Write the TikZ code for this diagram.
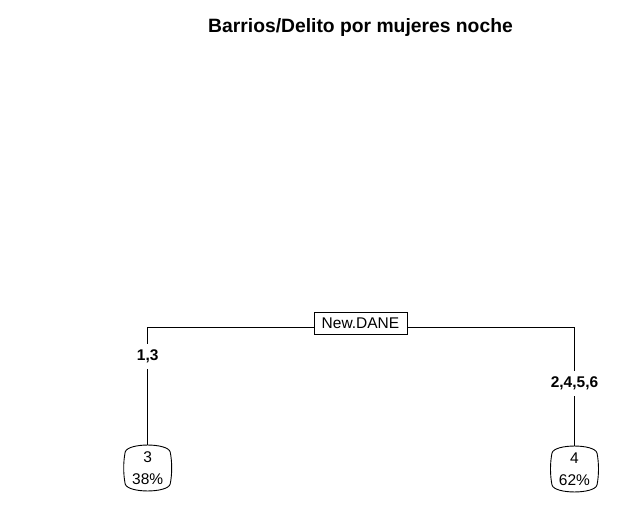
\documentclass[tikz,border=0pt]{standalone}
\usepackage{fontspec}
\setmainfont{Liberation Sans}
\begin{document}
\begin{tikzpicture}[x=1pt,y=-1pt,
  titlestyle/.style={font=\bfseries\fontsize{19.3}{22}\selectfont},
  splitbox/.style={draw, line width=0.9pt, inner sep=0pt, minimum width=93pt, minimum height=22.5pt, font=\fontsize{15.5}{18}\selectfont},
  leafbox/.style={inner sep=0pt, minimum width=45pt, minimum height=46pt},
  leaftext/.style={anchor=base, inner sep=0pt, font=\fontsize{15.5}{18}\selectfont},
  edgelab/.style={fill=white, inner sep=0pt, minimum height=25pt, minimum width=20pt, font=\bfseries\fontsize{15.5}{18}\selectfont},
  edge/.style={line width=0.9pt}]
\useasboundingbox (0,0) rectangle (633,506);
\fill[white] (0,0) rectangle (633,506);
\node[titlestyle] (title) at (360.5,28) {Barrios/Delito por mujeres noche};
\coordinate (hl) at (360.5,327.7);
\node[leafbox] (leafL) at (147.7,468) {};
\node[leafbox] (leafR) at (574.5,469) {};
\node[leaftext] (leafLa) at (147.7,462) {3};
\node[leaftext] (leafLb) at (147.7,484) {38\%};
\node[leaftext] (leafRa) at (574.5,463) {4};
\node[leaftext] (leafRb) at (574.5,485) {62\%};
\draw[edge] (leafL.north) -- (leafL.north |- hl) -- (leafR.north |- hl) -- (leafR.north);
\node[splitbox, fill=white] (root) at (360.5,323.5) {New.DANE};
\node[edgelab] (labL) at (147.7,356) {1,3};
\node[edgelab] (labR) at (574.5,383) {2,4,5,6};
\foreach \n in {leafL,leafR}{
  \begin{scope}[shift={(\n.center)}]
    \draw[edge] (-22.5,-16) .. controls (-20,-25.3) and (20,-25.3) .. (22.5,-16)
      .. controls (24.5,-6) and (24.5,6) .. (22.5,16)
      .. controls (20,25.3) and (-20,25.3) .. (-22.5,16)
      .. controls (-24.5,6) and (-24.5,-6) .. cycle;
  \end{scope}
}
\end{tikzpicture}
\end{document}
